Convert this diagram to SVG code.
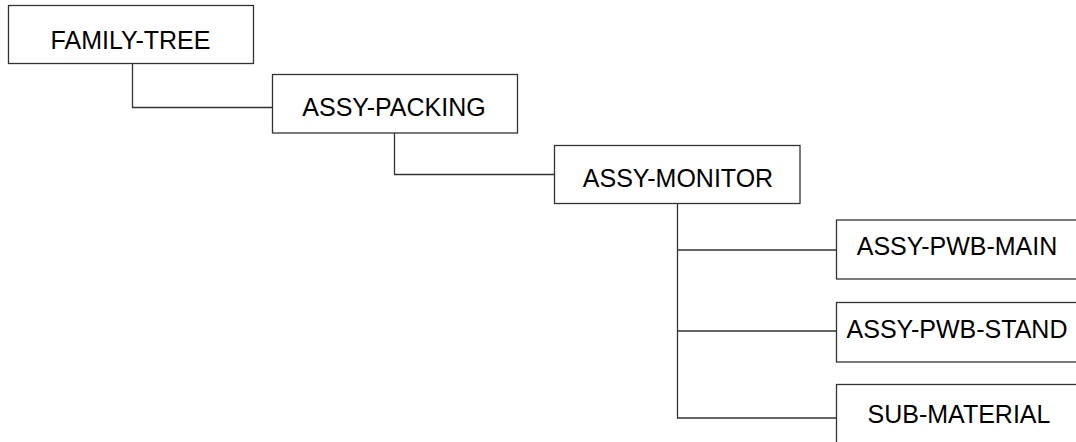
<svg xmlns="http://www.w3.org/2000/svg" width="1076" height="442" viewBox="0 0 1076 442">
<style>
.box{fill:#fff;stroke:#333;stroke-width:1.3}
.lbl{font-family:"Liberation Sans",Arial,sans-serif;font-size:25px;fill:#000;text-anchor:middle}
.conn{fill:none;stroke:#333;stroke-width:1.3}
</style>
<rect width="1076" height="442" fill="#fff"/>
<g id="connectors">
<path class="conn" d="M132.5 64 V107.5 H272.5"/>
<path class="conn" d="M394.5 133 V174.5 H554.5"/>
<path class="conn" d="M677.5 204 V418 H836.5 M677.5 250 H836.5 M677.5 331 H836.5"/>
</g>
<g id="family-tree"><rect class="box" x="8.5" y="5.5" width="245" height="58"/><text class="lbl" x="130.5" y="49">FAMILY-TREE</text></g>
<g id="assy-packing"><rect class="box" x="272.5" y="74.5" width="245" height="58.5"/><text class="lbl" x="394" y="116">ASSY-PACKING</text></g>
<g id="assy-monitor"><rect class="box" x="554.5" y="145.5" width="245.5" height="58"/><text class="lbl" x="678" y="186.5">ASSY-MONITOR</text></g>
<g id="assy-pwb-main"><rect class="box" x="836.5" y="220" width="246" height="59"/><text class="lbl" x="957" y="255">ASSY-PWB-MAIN</text></g>
<g id="assy-pwb-stand"><rect class="box" x="836.5" y="302.5" width="246" height="59.5"/><text class="lbl" x="957" y="338">ASSY-PWB-STAND</text></g>
<g id="sub-material"><rect class="box" x="836.5" y="384.5" width="246" height="70"/><text class="lbl" x="959" y="422.5">SUB-MATERIAL</text></g>
</svg>
